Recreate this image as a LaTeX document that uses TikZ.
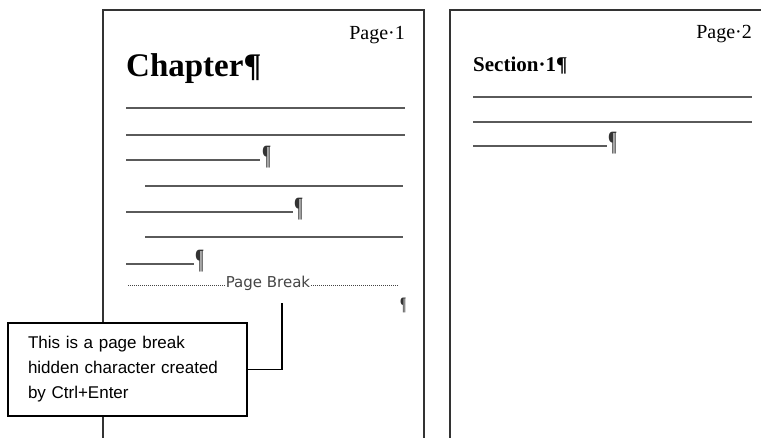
\documentclass[tikz,border=0pt]{standalone}
\usepackage{fontspec}
\setmainfont{Liberation Serif}
\newfontfamily\arialf{Liberation Sans}
\newfontfamily\dejaf{DejaVu Sans}
\definecolor{pageborder}{HTML}{333333}
\definecolor{ruleline}{HTML}{5A5A5A}
\definecolor{pbgray}{HTML}{444444}
\newcommand{\narrowpil}{\scalebox{0.6}[1]{¶}}
\begin{document}
\begin{tikzpicture}[x=1pt,y=-1pt,
  pageframe/.style={draw=pageborder,line width=2pt},
  textline/.style={draw=ruleline,line width=1.4pt},
  pilc/.style={inner sep=0pt,anchor=base west,text=black!80,font=\fontsize{28}{30}\selectfont\bfseries},
  pagenum/.style={inner sep=0pt,anchor=base east,font=\fontsize{20}{24}\selectfont},
  callbox/.style={draw=black,line width=1.4pt,fill=white,minimum width=239pt,minimum height=93pt,
     inner xsep=20pt,text width=199pt,align=left,font=\arialf\fontsize{17}{25}\selectfont},
  conn/.style={draw=black,line width=1.4pt},
  dotline/.style={draw=pbgray,line width=0.9pt,dash pattern=on 1pt off 1pt}]
\useasboundingbox (0,0) rectangle (761,438);
% pages
\draw[pageframe] (103,438) -- (103,10) -- (424,10) -- (424,438);
\draw[pageframe] (450,438) -- (450,10) -- (761,10);
% page 1 text
\node[pagenum] (p1) at (405,40) {Page·1};
\node[inner sep=0pt,anchor=base west,font=\fontsize{33}{36}\selectfont\bfseries] (chap) at (126,77) {Chapter¶};
\draw[textline] (126,108) -- (405,108);
\draw[textline] (126,135) -- (405,135);
\draw[textline] (126,160) -- (260,160);
\node[pilc] (q1) at (262,165) {\narrowpil};
\draw[textline] (145,186) -- (403,186);
\draw[textline] (126,212) -- (293,212);
\node[pilc] (q2) at (294,217) {\narrowpil};
\draw[textline] (145,237) -- (403,237);
\draw[textline] (126,264) -- (194,264);
\node[pilc] (q3) at (195,269) {\narrowpil};
\node[inner sep=1pt,text=pbgray,font=\dejaf\fontsize{15}{17}\selectfont] (pb) at (268,283) {Page Break};
\draw[dotline] (128,285) -- (pb.west |- 0,285);
\draw[dotline] (pb.east |- 0,285) -- (399,285);
\node[pilc,font=\fontsize{19}{22}\selectfont\bfseries] (q4) at (400,311) {\narrowpil};
% callout
\node[callbox] (callout) at (127.5,369.5) {This is a page break\\hidden character created\\by Ctrl+Enter};
\coordinate (pbtip) at (282,303);
\draw[conn] (callout.east) -| (pbtip);
% page 2 text
\node[pagenum] (p2) at (752,39) {Page·2};
\node[inner sep=0pt,anchor=base west,font=\fontsize{21}{24}\selectfont\bfseries] (sec) at (473,72) {Section·1¶};
\draw[textline] (473,97) -- (752,97);
\draw[textline] (473,122) -- (752,122);
\draw[textline] (473,146) -- (607,146);
\node[pilc] (q5) at (608,151) {\narrowpil};
\end{tikzpicture}
\end{document}
